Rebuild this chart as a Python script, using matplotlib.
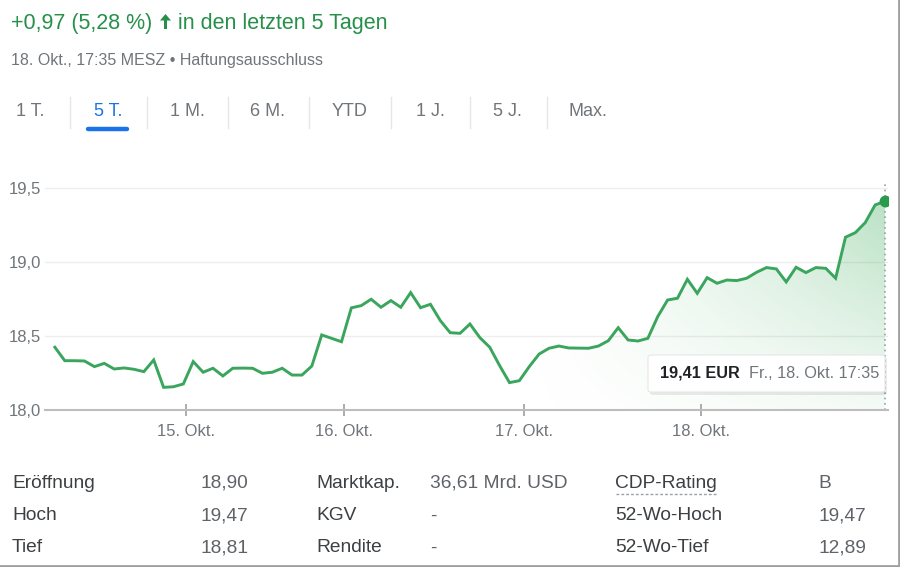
import matplotlib
matplotlib.use('Agg')
import matplotlib.pyplot as plt
import numpy as np
from matplotlib.patches import FancyBboxPatch, PathPatch, Polygon
from matplotlib.lines import Line2D

plt.rcParams['font.family'] = ['Liberation Sans', 'DejaVu Sans']

# ---------------- data ----------------
prices = [18.424, 18.333, 18.333, 18.331, 18.293, 18.315, 18.277, 18.284, 18.275, 18.259,
          18.338, 18.153, 18.157, 18.176, 18.327, 18.255, 18.282, 18.230, 18.282, 18.283,
          18.282, 18.248, 18.255, 18.282, 18.236, 18.236, 18.297, 18.507, 18.484, 18.461,
          18.690, 18.705, 18.748, 18.694, 18.739, 18.694, 18.793, 18.691, 18.714, 18.604,
          18.522, 18.518, 18.581, 18.489, 18.424, 18.300, 18.185, 18.198, 18.293, 18.378,
          18.417, 18.432, 18.419, 18.418, 18.417, 18.432, 18.468, 18.556, 18.473, 18.466,
          18.484, 18.631, 18.743, 18.755, 18.883, 18.788, 18.894, 18.856, 18.878, 18.874,
          18.890, 18.930, 18.962, 18.953, 18.865, 18.964, 18.928, 18.962, 18.957, 18.890,
          19.167, 19.198, 19.266, 19.385, 19.410]
day_labels = ['15. Okt.', '16. Okt.', '17. Okt.', '18. Okt.']
y_ticks = [18.0, 18.5, 19.0, 19.5]
y_tick_labels = ['18,0', '18,5', '19,0', '19,5']

header_change = '+0,97 (5,28 %)'
header_period = 'in den letzten 5 Tagen'
subheader = '18. Okt., 17:35 MESZ • Haftungsausschluss'
tabs = ['1 T.', '5 T.', '1 M.', '6 M.', 'YTD', '1 J.', '5 J.', 'Max.']
selected_tab = '5 T.'
tooltip_price = '19,41 EUR'
tooltip_time = 'Fr., 18. Okt. 17:35'

col1_labels = ['Eröffnung', 'Hoch', 'Tief']
col1_values = ['18,90', '19,47', '18,81']
col2_labels = ['Marktkap.', 'KGV', 'Rendite']
col2_values = ['36,61 Mrd. USD', '-', '-']
col3_labels = ['CDP-Rating', '52-Wo-Hoch', '52-Wo-Tief']
col3_values = ['B', '19,47', '12,89']

# ---------------- layout ----------------
W, H = 900, 567
GREEN_TXT = '#26904a'
GREEN_LINE = '#3aa55c'
GRAY = '#70757a'
DARK = '#3c4043'

fig = plt.figure(figsize=(W / 100, H / 100), dpi=100)
fig.patch.set_facecolor('white')


def fx(px):
    return px / W


def fy(py):
    return 1 - py / H


def ftext(px, py, s, **kw):
    kw.setdefault('va', 'center')
    return fig.text(fx(px), fy(py), s, **kw)


# header
ftext(11, 23, header_change, fontsize=15.5, color=GREEN_TXT)
arrow_pts = [(165.5, 14), (171, 20.5), (167, 20.5), (167, 29), (164, 29), (164, 20.5),
             (160, 20.5)]
fig.add_artist(Polygon([(fx(a), fy(b)) for a, b in arrow_pts], closed=True,
                       transform=fig.transFigure, facecolor=GREEN_TXT, edgecolor='none'))
ftext(178, 23, header_period, fontsize=15.5, color=GREEN_TXT)
ftext(11, 60, subheader, fontsize=11.5, color=GRAY)

# tabs
tab_centers = [30, 108, 187, 267, 350, 430, 507, 588]
for c, t in zip(tab_centers, tabs):
    col = '#1a73e8' if t == selected_tab else GRAY
    ftext(c, 112, t, fontsize=13, color=col, ha='center')
for sx in [70, 147, 228, 309, 391, 470, 547]:
    fig.add_artist(Line2D([fx(sx), fx(sx)], [fy(97), fy(128)], color='#e6e6e6', lw=1))
fig.add_artist(Line2D([fx(88), fx(127)], [fy(129), fy(129)], color='#1a73e8', lw=3.2,
                      solid_capstyle='round'))

# chart axes
ax = fig.add_axes([fx(45), fy(410), fx(888) - fx(45), (410 - 182) / H])
x = np.arange(len(prices))
xmin, xmax = -1.0, len(prices) - 1 + 0.3
ymin, ymax = 18.0, 19.54

# gradient fill under line
gx = np.linspace(xmin, xmax, 500)
gy = np.linspace(ymin, ymax, 300)
GX, GY = np.meshgrid(gx, gy)
fxg = np.clip((GX - 46) / (len(prices) - 1 - 46), 0, 1) ** 1.3
fyg = np.clip((GY - ymin) / (prices[-1] - ymin), 0, 1)
alpha = 0.34 * fxg * (0.15 + 0.85 * fyg)
rgba = np.zeros(GX.shape + (4,))
rgba[..., 0] = 52 / 255
rgba[..., 1] = 168 / 255
rgba[..., 2] = 83 / 255
rgba[..., 3] = alpha
im = ax.imshow(rgba, extent=[xmin, xmax, ymin, ymax], origin='lower', aspect='auto',
               zorder=1, interpolation='bilinear')
poly = ax.fill_between(x, prices, ymin, color='none', lw=0)
clip = PathPatch(poly.get_paths()[0], transform=ax.transData, facecolor='none',
                 edgecolor='none')
ax.add_patch(clip)
im.set_clip_path(clip)

ax.plot(x, prices, color=GREEN_LINE, lw=2.1, zorder=3, solid_joinstyle='miter')
ax.plot([x[-1]], [prices[-1]], 'o', color='#2a9a4c', ms=7.5, zorder=4)
ax.plot([x[-1], x[-1]], [ymin, ymax], color='#9aa0a6', lw=1.2, ls=(0, (1, 2.2)), zorder=2)

for yt in y_ticks[1:]:
    ax.axhline(yt, color='#eeeeee', lw=1, zorder=0)

ax.set_xlim(xmin, xmax)
ax.set_ylim(ymin, ymax)
for s in ['top', 'right', 'left']:
    ax.spines[s].set_visible(False)
ax.spines['bottom'].set_color('#bdbdbd')
ax.spines['bottom'].set_linewidth(1.5)
ax.set_yticks(y_ticks)
ax.set_yticklabels(y_tick_labels, fontsize=12, color=GRAY)
ax.tick_params(axis='y', length=0, pad=3)
day_ticks = [13.3, 29.3, 47.5, 65.4]
ax.set_xticks(day_ticks)
ax.set_xticklabels(day_labels, fontsize=12, color=GRAY)
ax.tick_params(axis='x', length=8, direction='inout', color='#9e9e9e', width=1.2, pad=6)
ax.patch.set_alpha(0)

# tooltip
shadow = FancyBboxPatch((fx(650), fy(395)), fx(887) - fx(650), (395 - 357) / H,
                        boxstyle='round,pad=0,rounding_size=0.004',
                        transform=fig.transFigure, facecolor='#000000', alpha=0.08,
                        edgecolor='none', zorder=5)
fig.add_artist(shadow)
box = FancyBboxPatch((fx(648), fy(392)), fx(885) - fx(648), (392 - 355) / H,
                     boxstyle='round,pad=0,rounding_size=0.004',
                     transform=fig.transFigure, facecolor='white',
                     edgecolor='#e6e6e6', lw=0.8, zorder=6)
fig.add_artist(box)
ftext(660, 373, tooltip_price, fontsize=11.7, color='#202124', fontweight='bold', zorder=7)
ftext(749, 373, tooltip_time, fontsize=11.7, color=GRAY, zorder=7)

# stats table
rows_y = [483, 516, 548]
for i, yy in enumerate(rows_y):
    ftext(12, yy, col1_labels[i], fontsize=13.8, color=DARK)
    ftext(200, yy, col1_values[i], fontsize=13.8, color='#5f6368')
    ftext(316, yy, col2_labels[i], fontsize=13.8, color=DARK)
    ftext(430, yy, col2_values[i], fontsize=13.8, color='#5f6368')
    ftext(615, yy, col3_labels[i], fontsize=13.8, color=DARK)
    ftext(818, yy, col3_values[i], fontsize=13.8, color='#5f6368')
fig.add_artist(Line2D([fx(616), fx(717)], [fy(494), fy(494)], color='#9aa0a6', lw=1,
                      ls=(0, (2, 1.5))))

# outer frame (right and bottom edges)
fig.add_artist(Line2D([fx(899), fx(899), 0], [1, fy(566), fy(566)], color='#a0a0a0', lw=2))

fig.savefig('out.png', dpi=100)
